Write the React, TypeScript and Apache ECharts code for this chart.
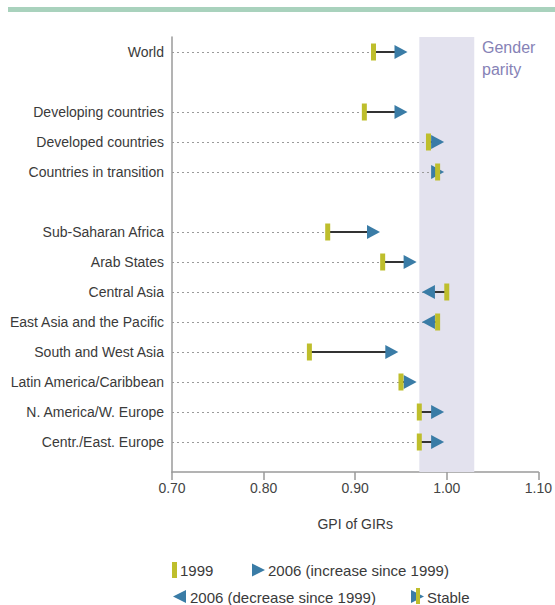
import React, { useEffect, useRef } from "react";
import * as echarts from "echarts";

const categories = [
  "World",
  "",
  "Developing countries",
  "Developed countries",
  "Countries in transition",
  "",
  "Sub-Saharan Africa",
  "Arab States",
  "Central Asia",
  "East Asia and the Pacific",
  "South and West Asia",
  "Latin America/Caribbean",
  "N. America/W. Europe",
  "Centr./East. Europe",
];
const gpi1999 = [0.92, null, 0.91, 0.98, 0.99, null, 0.87, 0.93, 1.0, 0.99, 0.85, 0.95, 0.97, 0.97];
const gpi2006 = [0.95, null, 0.95, 0.99, 0.99, null, 0.92, 0.96, 0.98, 0.98, 0.94, 0.96, 0.99, 0.99];
const xTicks = [0.7, 0.8, 0.9, 1.0, 1.1];
const parityRange = [0.97, 1.03];
const legendLabels = ["1999", "2006 (increase since 1999)", "2006 (decrease since 1999)", "Stable"];

const FONT = "Liberation Sans";
const YELLOW = "#BEBE2C";
const BLUE = "#3A7CA6";
const BAND = "#E3E2EE";
const TEXT = "#3a3a3a";
const AXIS = "#9a9a9a";

export default function App() {
  const ref = useRef<HTMLDivElement>(null);
  useEffect(() => {
    if (!ref.current) return;
    const chart = echarts.init(ref.current, null, { renderer: "svg" });

    const leaders: any[] = [];
    const connectors: any[] = [];
    const inc: any[] = [];
    const dec: any[] = [];
    const base: any[] = [];
    categories.forEach((c, i) => {
      const a = gpi1999[i];
      const b = gpi2006[i];
      if (a == null || b == null) return;
      leaders.push({ coords: [[xTicks[0], i], [Math.min(a, b), i]] });
      if (a !== b) connectors.push({ coords: [[a, i], [b, i]] });
      if (b >= a) inc.push([b, i]);
      else dec.push([b, i]);
      base.push([a, i]);
    });

    const tx = (t: string, x: number, y: number, size = 15) => ({
      type: "text",
      x,
      y,
      style: { text: t, fill: TEXT, fontSize: size, fontFamily: FONT, verticalAlign: "middle" },
    });

    chart.setOption({
      animation: false,
      grid: { left: 172, right: 16, top: 37, height: 435, containLabel: false },
      xAxis: {
        type: "value",
        min: xTicks[0],
        max: xTicks[xTicks.length - 1],
        interval: 0.1,
        name: "GPI of GIRs",
        nameLocation: "middle",
        nameGap: 45,
        nameTextStyle: { color: TEXT, fontSize: 14, fontFamily: FONT },
        axisLine: { onZero: false, lineStyle: { color: AXIS, width: 1.5 } },
        axisTick: { length: 8, lineStyle: { color: AXIS, width: 1.5 } },
        axisLabel: {
          color: "#444",
          fontSize: 14,
          fontFamily: FONT,
          margin: 9,
          formatter: (v: number) => v.toFixed(2),
        },
        splitLine: { show: false },
      },
      yAxis: {
        type: "value",
        inverse: true,
        min: -0.5,
        max: 14,
        interval: 0.5,
        axisLine: { show: true, onZero: false, lineStyle: { color: AXIS, width: 1.5 } },
        axisTick: { show: false },
        splitLine: { show: false },
        axisLabel: {
          color: TEXT,
          fontSize: 14,
          fontFamily: FONT,
          margin: 8,
          showMinLabel: true,
          showMaxLabel: true,
          formatter: (v: number) => {
            const i = Math.round(v);
            if (Math.abs(v - i) > 1e-6) return "";
            return categories[i] ?? "";
          },
        },
      },
      series: [
        {
          type: "lines",
          coordinateSystem: "cartesian2d",
          z: 1,
          silent: true,
          lineStyle: { color: AXIS, width: 1, type: [2, 3], opacity: 1 },
          data: leaders,
          markArea: {
            silent: true,
            itemStyle: { color: BAND },
            data: [[{ xAxis: parityRange[0] }, { xAxis: parityRange[1] }]],
          },
        },
        {
          type: "lines",
          coordinateSystem: "cartesian2d",
          z: 2,
          silent: true,
          lineStyle: { color: "#333", width: 2, opacity: 1 },
          data: connectors,
        },
        {
          type: "scatter",
          z: 3,
          symbol: "triangle",
          symbolRotate: -90,
          symbolSize: [14, 13],
          itemStyle: { color: BLUE, opacity: 1 },
          data: inc,
        },
        {
          type: "scatter",
          z: 3,
          symbol: "triangle",
          symbolRotate: 90,
          symbolSize: [14, 13],
          itemStyle: { color: BLUE, opacity: 1 },
          data: dec,
        },
        {
          type: "scatter",
          z: 4,
          symbol: "rect",
          symbolSize: [5, 17],
          itemStyle: { color: YELLOW, opacity: 1 },
          data: base,
        },
      ],
      graphic: [
        { type: "rect", shape: { x: 8, y: 7, width: 547, height: 5 }, style: { fill: "#A9D2BD" } },
        {
          type: "text",
          x: 482,
          y: 36,
          style: {
            text: "Gender\nparity",
            fill: "#8682B6",
            fontSize: 16,
            fontFamily: FONT,
            lineHeight: 22,
          },
        },
        { type: "rect", shape: { x: 172, y: 562, width: 5, height: 16 }, style: { fill: YELLOW } },
        tx(legendLabels[0], 180, 570),
        { type: "polygon", shape: { points: [[252, 563.5], [265, 570], [252, 576.5]] }, style: { fill: BLUE } },
        tx(legendLabels[1], 268, 570),
        { type: "polygon", shape: { points: [[186, 590], [173, 596.5], [186, 603]] }, style: { fill: BLUE } },
        tx(legendLabels[2], 190, 597),
        { type: "polygon", shape: { points: [[411, 590], [424, 596.5], [411, 603]] }, style: { fill: BLUE } },
        { type: "rect", shape: { x: 416, y: 588, width: 4, height: 16 }, style: { fill: YELLOW } },
        tx(legendLabels[3], 427, 597),
      ],
    });
    return () => chart.dispose();
  }, []);
  return (
    <div
      ref={ref}
      style={{ position: "fixed", left: 0, top: 0, width: 555, height: 605, background: "#fff" }}
    />
  );
}
